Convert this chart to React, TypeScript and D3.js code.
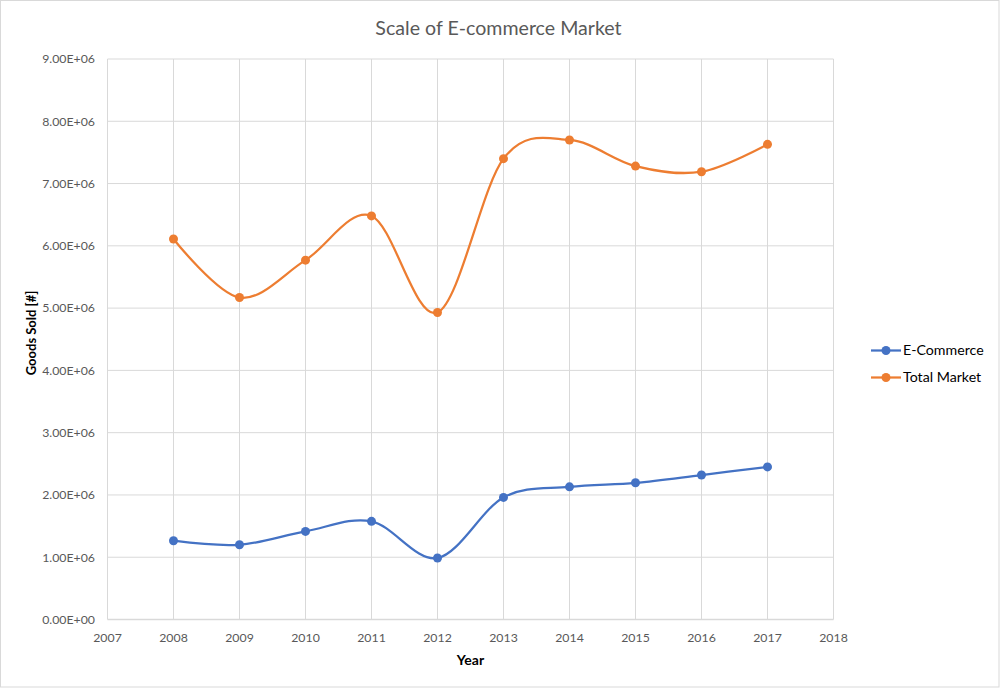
import React, { useEffect, useRef } from "react";
import * as d3 from "d3";

const years = [2008, 2009, 2010, 2011, 2012, 2013, 2014, 2015, 2016, 2017];
const eCommerce = [1.265e6, 1.2e6, 1.415e6, 1.576e6, 0.987e6, 1.96e6, 2.13e6, 2.195e6, 2.32e6, 2.45e6];
const totalMarket = [6.11e6, 5.17e6, 5.77e6, 6.48e6, 4.93e6, 7.4e6, 7.7e6, 7.28e6, 7.19e6, 7.63e6];
const xTicks = [2007, 2008, 2009, 2010, 2011, 2012, 2013, 2014, 2015, 2016, 2017, 2018];
const yTicks = [0, 1e6, 2e6, 3e6, 4e6, 5e6, 6e6, 7e6, 8e6, 9e6];
const seriesNames = ["E-Commerce", "Total Market"];
const seriesColors = ["#4472C4", "#ED7D31"];

const W = 1000;
const H = 688;
const FONT = "Lato, 'Open Sans', sans-serif";

export default function App() {
  const ref = useRef<SVGSVGElement>(null);
  useEffect(() => {
    const svg = d3.select(ref.current);
    svg.selectAll("*").remove();

    const x = d3.scaleLinear().domain([2007, 2018]).range([107.5, 833.5]);
    const y = d3.scaleLinear().domain([0, 9e6]).range([619.5, 59]);

    svg.append("rect").attr("x", 0.5).attr("y", 0.5).attr("width", W - 1.5).attr("height", H - 1.5)
      .attr("fill", "#fff").attr("stroke", "#D9D9D9");

    const grid = svg.append("g");
    yTicks.forEach((t) => {
      grid.append("line").attr("x1", x(2007)).attr("x2", x(2018)).attr("y1", y(t)).attr("y2", y(t))
        .attr("stroke", "#D9D9D9").attr("stroke-width", t === 0 ? 1.5 : 1);
    });
    xTicks.forEach((t) => {
      grid.append("line").attr("x1", x(t)).attr("x2", x(t)).attr("y1", y(0)).attr("y2", y(9e6))
        .attr("stroke", "#D9D9D9").attr("stroke-width", 1);
    });

    const fmt = (v: number) => {
      const s = v.toExponential(2).toUpperCase();
      const [m, e] = s.split("E");
      const n = parseInt(e, 10);
      return `${m}E${n >= 0 ? "+" : "-"}${String(Math.abs(n)).padStart(2, "0")}`;
    };

    svg.append("g").selectAll("text").data(yTicks).join("text")
      .attr("x", 95).attr("y", (d) => y(d)).attr("dy", "0.35em").attr("text-anchor", "end")
      .attr("font-family", FONT).attr("font-size", 12.3).attr("fill", "#595959").text((d) => fmt(d));

    svg.append("g").selectAll("text").data(xTicks).join("text")
      .attr("x", (d) => x(d)).attr("y", 638).attr("dy", "0.35em").attr("text-anchor", "middle")
      .attr("font-family", FONT).attr("font-size", 12.3).attr("fill", "#595959").text((d) => String(d));

    svg.append("text").attr("x", 498.5).attr("y", 28).attr("dy", "0.35em").attr("text-anchor", "middle")
      .attr("font-family", FONT).attr("font-size", 19.6).attr("fill", "#595959").text("Scale of E-commerce Market");

    svg.append("text").attr("x", 470.5).attr("y", 660).attr("dy", "0.35em").attr("text-anchor", "middle")
      .attr("font-family", FONT).attr("font-size", 14).attr("font-weight", "bold").attr("fill", "#000").text("Year");

    svg.append("text").attr("transform", `translate(31,333) rotate(-90)`).attr("dy", "0.35em").attr("text-anchor", "middle")
      .attr("font-family", FONT).attr("font-size", 13).attr("font-weight", "bold").attr("fill", "#000").text("Goods Sold [#]");

    const line = d3.line<number>()
      .x((_, i) => x(years[i]))
      .y((d) => y(d))
      .curve(d3.curveCardinal.tension(0));

    [eCommerce, totalMarket].forEach((vals, si) => {
      const g = svg.append("g");
      g.append("path").attr("d", line(vals)).attr("fill", "none").attr("stroke", seriesColors[si]).attr("stroke-width", 2.25);
      g.selectAll("circle").data(vals).join("circle")
        .attr("cx", (_, i) => x(years[i])).attr("cy", (d) => y(d)).attr("r", 4.5).attr("fill", seriesColors[si]);
    });

    const leg = svg.append("g");
    seriesNames.forEach((name, i) => {
      const ly = 350.5 + i * 27;
      leg.append("line").attr("x1", 871).attr("x2", 901).attr("y1", ly).attr("y2", ly)
        .attr("stroke", seriesColors[i]).attr("stroke-width", 2.25);
      leg.append("circle").attr("cx", 886).attr("cy", ly).attr("r", 4.5).attr("fill", seriesColors[i]);
      leg.append("text").attr("x", 903).attr("y", ly).attr("dy", "0.35em")
        .attr("font-family", FONT).attr("font-size", 14.2).attr("fill", "#000").text(name);
    });
  }, []);

  return (
    <div style={{ position: "absolute", left: 0, top: 0 }}>
      <svg ref={ref} width={W} height={H} style={{ display: "block" }} />
    </div>
  );
}
